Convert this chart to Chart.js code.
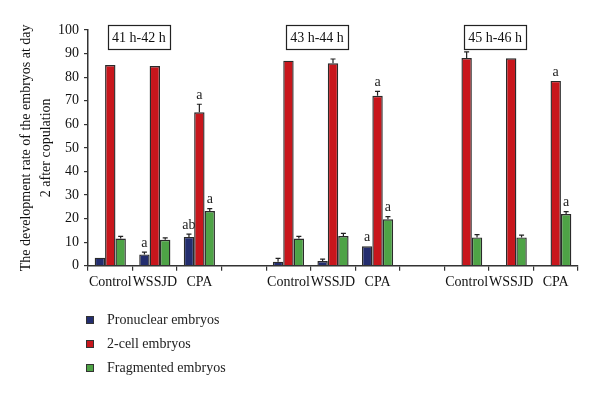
<!DOCTYPE html>
<html>
<head>
<meta charset="utf-8">
<script src="https://cdn.jsdelivr.net/npm/chart.js@4.4.1/dist/chart.umd.min.js"></script>
<style>
  html, body { margin: 0; padding: 0; background: #fff; }
  #wrap { position: relative; width: 600px; height: 395px; }
  #legend { position: absolute; left: 85px; top: 308px; font-family: "Liberation Serif", serif; font-size: 14px; color: #222; }
  #legend div { height: 24px; line-height: 20px; display: flex; align-items: center; }
  #legend span.sw { display: inline-block; width: 6px; height: 6px; border: 1px solid #333; margin-right: 13px; margin-left: 1px; }
</style>
</head>
<body>
<div id="wrap">
  <canvas id="c" width="600" height="395"></canvas>
  <div id="legend"></div>
</div>
<script>
const categories = ['Control','WSSJD','CPA','','Control','WSSJD','CPA','','Control','WSSJD','CPA'];
const groupTitles = ['41 h-42 h', '43 h-44 h', '45 h-46 h'];
const groupTitleAt = [1, 5, 9];
const seriesNames = ['Pronuclear embryos', '2-cell embryos', 'Fragmented embryos'];
const pronuclear = [3.4, 4.8, 12.2, null, 1.7, 2.0, 8.2, null, 0, 0, 0];
const twoCell    = [85.1, 84.7, 65.1, null, 87.0, 85.9, 72.1, null, 88.1, 88.0, 78.4];
const fragmented = [11.5, 11.0, 23.2, null, 11.5, 12.6, 19.7, null, 12.0, 12.0, 21.9];
const pronuclearErr = [0, 1.0, 1.2, null, 1.4, 0.8, 0, null, 0, 0, 0];
const twoCellErr    = [0, 0, 3.4, null, 0, 1.8, 1.9, null, 2.6, 0, 0];
const fragmentedErr = [0.9, 0.8, 1.0, null, 0.9, 1.1, 1.1, null, 1.2, 1.0, 1.0];
const pronuclearSig = ['', 'a', 'ab', '', '', '', 'a', '', '', '', ''];
const twoCellSig    = ['', '', 'a', '', '', '', 'a', '', '', '', 'a'];
const fragmentedSig = ['', '', 'a', '', '', '', 'a', '', '', '', 'a'];
const yTicks = [0,10,20,30,40,50,60,70,80,90,100];

const colors = ['#232d6e', '#c8161c', '#4ea346'];
const FONT = '"Liberation Serif", serif';

const legend = document.getElementById('legend');
seriesNames.forEach((n, i) => {
  const d = document.createElement('div');
  d.innerHTML = '<span class="sw" style="background:' + colors[i] + '"></span>' + n;
  legend.appendChild(d);
});

const errs = [pronuclearErr, twoCellErr, fragmentedErr];
const sigs = [pronuclearSig, twoCellSig, fragmentedSig];

const extras = {
  id: 'extras',
  afterDatasetsDraw(chart) {
    const ctx = chart.ctx;
    const ys = chart.scales.y, xs = chart.scales.x;
    ctx.save();
    chart.data.datasets.forEach((ds, di) => {
      const meta = chart.getDatasetMeta(di);
      meta.data.forEach((bar, i) => {
        const v = ds.data[i];
        if (v === null || v === undefined) return;
        let top = ys.getPixelForValue(v);
        const e = errs[di][i];
        if (e) {
          const yt = ys.getPixelForValue(v + e);
          ctx.strokeStyle = '#222';
          ctx.lineWidth = 1.2;
          ctx.beginPath();
          ctx.moveTo(bar.x, top);
          ctx.lineTo(bar.x, yt);
          ctx.moveTo(bar.x - 2.5, yt);
          ctx.lineTo(bar.x + 2.5, yt);
          ctx.stroke();
          top = yt;
        }
        const s = sigs[di][i];
        if (s) {
          ctx.fillStyle = '#222';
          ctx.font = '14px ' + FONT;
          ctx.textAlign = 'center';
          ctx.textBaseline = 'bottom';
          ctx.fillText(s, bar.x, top - 2);
        }
      });
    });
    // group title boxes
    ctx.font = '14px ' + FONT;
    ctx.textAlign = 'center';
    ctx.textBaseline = 'middle';
    groupTitles.forEach((t, k) => {
      const cx = xs.getPixelForValue(groupTitleAt[k]) - 16;
      const cy = ys.getPixelForValue(97);
      const w = ctx.measureText(t).width + 8;
      const h = 24;
      ctx.fillStyle = '#fff';
      ctx.fillRect(cx - w / 2, cy - h / 2, w, h);
      ctx.strokeStyle = '#222';
      ctx.lineWidth = 1.2;
      ctx.strokeRect(Math.round(cx - w / 2) + 0.5, Math.round(cy - h / 2) + 0.5, Math.round(w), h);
      ctx.fillStyle = '#111';
      ctx.fillText(t, cx, cy + 1);
    });
    ctx.restore();
  }
};

const mk = (label, data, c) => ({
  label, data,
  backgroundColor: c,
  borderColor: '#2a2a2a',
  borderWidth: 1.4,
  borderSkipped: 'bottom',
  barPercentage: 1.0,
  categoryPercentage: 0.7
});

new Chart(document.getElementById('c'), {
  type: 'bar',
  data: {
    labels: categories,
    datasets: [
      mk(seriesNames[0], pronuclear, colors[0]),
      mk(seriesNames[1], twoCell, colors[1]),
      mk(seriesNames[2], fragmented, colors[2])
    ]
  },
  options: {
    responsive: false,
    animation: false,
    layout: { padding: { left: 0, right: 22, top: 30, bottom: 0 } },
    plugins: { legend: { display: false }, tooltip: { enabled: false } },
    scales: {
      x: {
        offset: true,
        grid: { display: true, drawOnChartArea: false, offset: true, color: '#333', tickLength: 5, lineWidth: 1.2 },
        border: { display: true, color: '#333', width: 1.5 },
        ticks: { color: '#111', font: { family: FONT, size: 14 }, padding: 3, maxRotation: 0, autoSkip: false },
        afterFit(s) { s.height = 129.3; }
      },
      y: {
        min: 0, max: 100,
        afterBuildTicks(s) { s.ticks = yTicks.map(v => ({ value: v })); },
        grid: { display: true, drawOnChartArea: false, color: '#333', tickLength: 4, lineWidth: 1.2 },
        border: { display: true, color: '#333', width: 1.5 },
        ticks: { color: '#111', font: { family: FONT, size: 14 }, padding: 5 },
        title: {
          display: true,
          text: ['The development rate of the embryos at day', '2 after copulation'],
          color: '#111',
          font: { family: FONT, size: 14, lineHeight: 1.4 },
          padding: { top: 17, bottom: 4 }
        },
        afterFit(s) { s.width = 88; }
      }
    }
  },
  plugins: [extras]
});
</script>
</body>
</html>
